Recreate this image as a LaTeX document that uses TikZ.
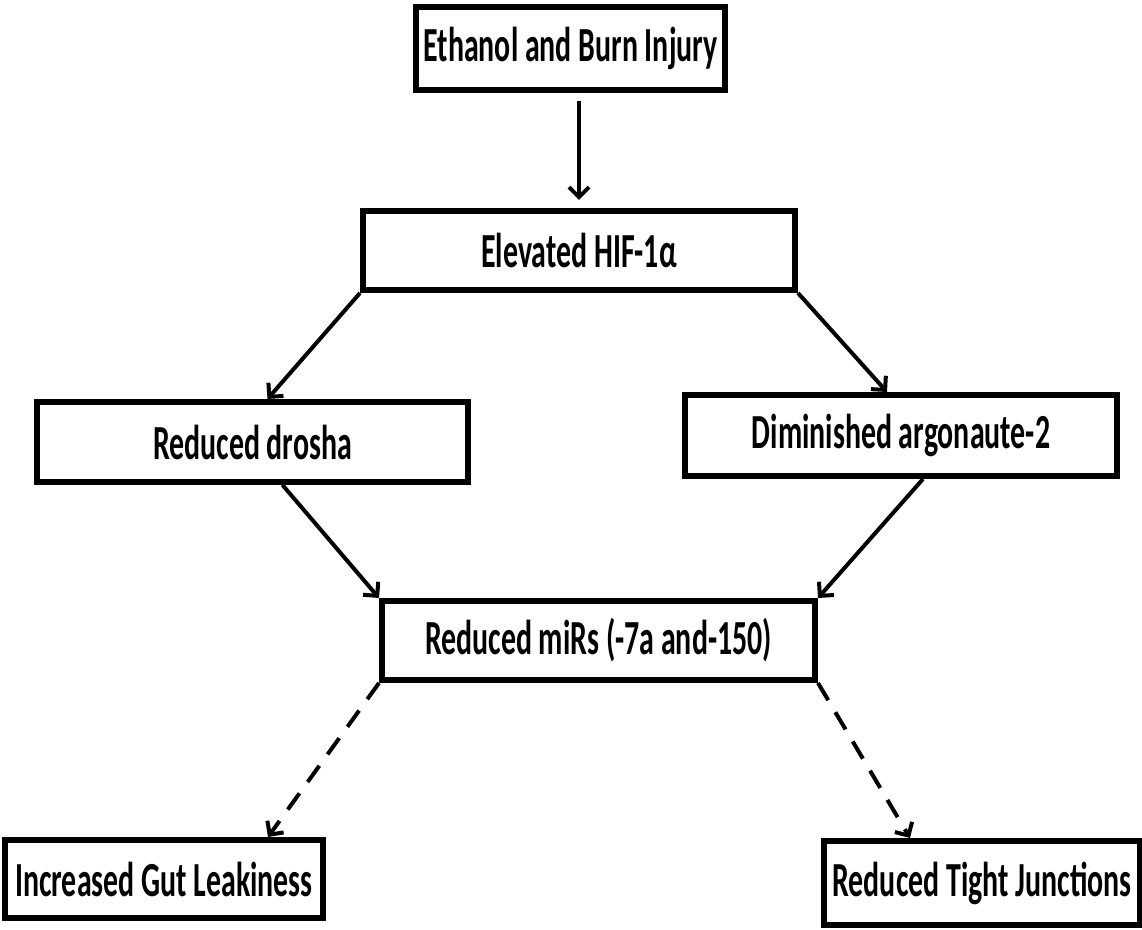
\documentclass[tikz,border=0pt]{standalone}
\usepackage{fontspec}
\usepackage{tikz}
\usetikzlibrary{arrows.meta}
\newfontfamily\boxfont[FakeStretch=0.61]{Carlito}

\begin{document}
\begin{tikzpicture}[
  x=0.5pt, y=-0.5pt,
  font=\boxfont\bfseries\fontsize{24.5}{28}\selectfont,
  stage/.style={draw, line width=3pt, inner sep=0pt},
  link/.style={-{Straight Barb[length=5pt,width=10pt]}, line width=2pt},
  dlink/.style={link, dash pattern=on 10pt off 7pt}
]
  \useasboundingbox (0,0) rectangle (1142,930);
  \node[stage, minimum width=154.5pt, minimum height=41.5pt] (eth) at (570.5,48.5)
    {Ethanol and Burn Injury};
  \node[stage, minimum width=216pt, minimum height=39.5pt] (hif) at (579,250.5)
    {Elevated HIF-1α};
  \node[stage, minimum width=215.5pt, minimum height=40pt] (drosha) at (252.5,442)
    {Reduced drosha};
  \node[stage, minimum width=216pt, minimum height=40.5pt] (ago) at (901,435.5)
    {Diminished argonaute-2};
  \node[stage, minimum width=216.5pt, minimum height=39.5pt] (mirs) at (598.5,640.5)
    {Reduced miRs (-7a and-150)};
  \node[stage, minimum width=159pt, minimum height=39pt] (gut) at (164,879)
    {Increased Gut Leakiness};
  \node[stage, minimum width=158pt, minimum height=42pt] (tj) at (982,883)
    {Reduced Tight Junctions};

  \draw[link, shorten <=4pt, shorten >=4pt] (eth.south -| hif.north) -- (hif.north);
  \draw[link] (hif.south west) -- ([xshift=7.5pt]drosha.north);
  \draw[link] (hif.south east) -- ([xshift=-7pt]ago.north);
  \draw[link] ([xshift=15pt]drosha.south) -- (mirs.north west);
  \draw[link] ([xshift=11pt]ago.south) -- (mirs.north east);
  \draw[dlink] (mirs.south west) -- ([xshift=52pt]gut.north);
  \draw[dlink] (mirs.south east) -- ([xshift=-36pt]tj.north);
\end{tikzpicture}
\end{document}
